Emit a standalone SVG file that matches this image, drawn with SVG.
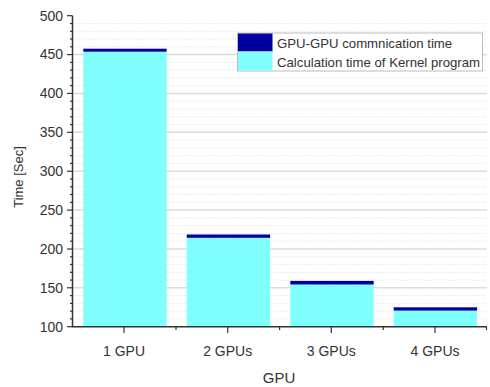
<svg xmlns="http://www.w3.org/2000/svg" width="490" height="387" viewBox="0 0 490 387">
<style>
text{font-family:"Liberation Sans",Arial,sans-serif;fill:#333}
.yl{font-size:14px;text-anchor:end}
.xl{font-size:14px;text-anchor:middle}
.lg{font-size:13.2px}
.gmaj{stroke:#dcdcdc;stroke-width:1.5}
.gmin{stroke:#ececec;stroke-width:1;stroke-dasharray:2,1}
.ax{stroke:#333;stroke-width:1.5;fill:none}
.tk{stroke:#333;stroke-width:1.2}
.cal{fill:#80FFFF}
.com{fill:#0000A0}
</style>
<rect width="490" height="387" fill="#fff"/>
<g id="grid">
<g class="gmin">
<line x1="73" x2="487" y1="318.9" y2="318.9"/><line x1="73" x2="487" y1="311.2" y2="311.2"/><line x1="73" x2="487" y1="303.4" y2="303.4"/><line x1="73" x2="487" y1="295.6" y2="295.6"/>
<line x1="73" x2="487" y1="280.1" y2="280.1"/><line x1="73" x2="487" y1="272.3" y2="272.3"/><line x1="73" x2="487" y1="264.5" y2="264.5"/><line x1="73" x2="487" y1="256.8" y2="256.8"/>
<line x1="73" x2="487" y1="241.2" y2="241.2"/><line x1="73" x2="487" y1="233.4" y2="233.4"/><line x1="73" x2="487" y1="225.7" y2="225.7"/><line x1="73" x2="487" y1="217.9" y2="217.9"/>
<line x1="73" x2="487" y1="202.3" y2="202.3"/><line x1="73" x2="487" y1="194.5" y2="194.5"/><line x1="73" x2="487" y1="186.8" y2="186.8"/><line x1="73" x2="487" y1="179.0" y2="179.0"/>
<line x1="73" x2="487" y1="163.4" y2="163.4"/><line x1="73" x2="487" y1="155.7" y2="155.7"/><line x1="73" x2="487" y1="147.9" y2="147.9"/><line x1="73" x2="487" y1="140.1" y2="140.1"/>
<line x1="73" x2="487" y1="124.6" y2="124.6"/><line x1="73" x2="487" y1="116.8" y2="116.8"/><line x1="73" x2="487" y1="109.0" y2="109.0"/><line x1="73" x2="487" y1="101.2" y2="101.2"/>
<line x1="73" x2="487" y1="85.7" y2="85.7"/><line x1="73" x2="487" y1="77.9" y2="77.9"/><line x1="73" x2="487" y1="70.1" y2="70.1"/><line x1="73" x2="487" y1="62.4" y2="62.4"/>
<line x1="73" x2="487" y1="46.8" y2="46.8"/><line x1="73" x2="487" y1="39.0" y2="39.0"/><line x1="73" x2="487" y1="31.3" y2="31.3"/><line x1="73" x2="487" y1="23.5" y2="23.5"/>
</g>
<g class="gmaj">
<line x1="73" x2="487" y1="287.8" y2="287.8"/><line x1="73" x2="487" y1="249.0" y2="249.0"/><line x1="73" x2="487" y1="210.1" y2="210.1"/><line x1="73" x2="487" y1="171.2" y2="171.2"/>
<line x1="73" x2="487" y1="132.3" y2="132.3"/><line x1="73" x2="487" y1="93.4" y2="93.4"/><line x1="73" x2="487" y1="54.6" y2="54.6"/>
</g>
</g>
<g id="bar-1gpu">
<rect class="cal" x="83.3" y="51.7" width="83.4" height="275"/>
<rect class="com" x="83.3" y="48.7" width="83.4" height="3"/>
</g>
<g id="bar-2gpus">
<rect class="cal" x="186.7" y="237.8" width="83.4" height="88.9"/>
<rect class="com" x="186.7" y="234.5" width="83.4" height="3.3"/>
</g>
<g id="bar-3gpus">
<rect class="cal" x="290.3" y="284.5" width="83.4" height="42.2"/>
<rect class="com" x="290.3" y="280.9" width="83.4" height="3.6"/>
</g>
<g id="bar-4gpus">
<rect class="cal" x="393.7" y="310.6" width="83.4" height="16.1"/>
<rect class="com" x="393.7" y="307.3" width="83.4" height="3.3"/>
</g>
<g id="axes">
<path class="ax" d="M72.5,15.7 V326.7 H487"/>
<g class="tk">
<line x1="67" x2="72.5" y1="326.7" y2="326.7"/><line x1="67" x2="72.5" y1="287.8" y2="287.8"/><line x1="67" x2="72.5" y1="249.0" y2="249.0"/><line x1="67" x2="72.5" y1="210.1" y2="210.1"/>
<line x1="67" x2="72.5" y1="171.2" y2="171.2"/><line x1="67" x2="72.5" y1="132.3" y2="132.3"/><line x1="67" x2="72.5" y1="93.4" y2="93.4"/><line x1="67" x2="72.5" y1="54.6" y2="54.6"/><line x1="67" x2="72.5" y1="15.7" y2="15.7"/>
</g>
<g class="tk" stroke-width="1">
<line x1="70" x2="72.5" y1="318.9" y2="318.9"/><line x1="70" x2="72.5" y1="311.2" y2="311.2"/><line x1="70" x2="72.5" y1="303.4" y2="303.4"/><line x1="70" x2="72.5" y1="295.6" y2="295.6"/>
<line x1="70" x2="72.5" y1="280.1" y2="280.1"/><line x1="70" x2="72.5" y1="272.3" y2="272.3"/><line x1="70" x2="72.5" y1="264.5" y2="264.5"/><line x1="70" x2="72.5" y1="256.8" y2="256.8"/>
<line x1="70" x2="72.5" y1="241.2" y2="241.2"/><line x1="70" x2="72.5" y1="233.4" y2="233.4"/><line x1="70" x2="72.5" y1="225.7" y2="225.7"/><line x1="70" x2="72.5" y1="217.9" y2="217.9"/>
<line x1="70" x2="72.5" y1="202.3" y2="202.3"/><line x1="70" x2="72.5" y1="194.5" y2="194.5"/><line x1="70" x2="72.5" y1="186.8" y2="186.8"/><line x1="70" x2="72.5" y1="179.0" y2="179.0"/>
<line x1="70" x2="72.5" y1="163.4" y2="163.4"/><line x1="70" x2="72.5" y1="155.7" y2="155.7"/><line x1="70" x2="72.5" y1="147.9" y2="147.9"/><line x1="70" x2="72.5" y1="140.1" y2="140.1"/>
<line x1="70" x2="72.5" y1="124.6" y2="124.6"/><line x1="70" x2="72.5" y1="116.8" y2="116.8"/><line x1="70" x2="72.5" y1="109.0" y2="109.0"/><line x1="70" x2="72.5" y1="101.2" y2="101.2"/>
<line x1="70" x2="72.5" y1="85.7" y2="85.7"/><line x1="70" x2="72.5" y1="77.9" y2="77.9"/><line x1="70" x2="72.5" y1="70.1" y2="70.1"/><line x1="70" x2="72.5" y1="62.4" y2="62.4"/>
<line x1="70" x2="72.5" y1="46.8" y2="46.8"/><line x1="70" x2="72.5" y1="39.0" y2="39.0"/><line x1="70" x2="72.5" y1="31.3" y2="31.3"/><line x1="70" x2="72.5" y1="23.5" y2="23.5"/>
</g>
<g class="tk">
<line x1="124" x2="124" y1="326.7" y2="333"/><line x1="227.7" x2="227.7" y1="326.7" y2="333"/><line x1="331.3" x2="331.3" y1="326.7" y2="333"/><line x1="435" x2="435" y1="326.7" y2="333"/>
<line x1="176" x2="176" y1="326.7" y2="330"/><line x1="279.6" x2="279.6" y1="326.7" y2="330"/><line x1="383.3" x2="383.3" y1="326.7" y2="330"/><line x1="486.5" x2="486.5" y1="326.7" y2="330"/>
</g>
</g>
<g id="y-labels">
<text class="yl" x="63" y="331.5">100</text>
<text class="yl" x="63" y="292.6">150</text>
<text class="yl" x="63" y="253.8">200</text>
<text class="yl" x="63" y="214.9">250</text>
<text class="yl" x="63" y="176">300</text>
<text class="yl" x="63" y="137.1">350</text>
<text class="yl" x="63" y="98.2">400</text>
<text class="yl" x="63" y="59.4">450</text>
<text class="yl" x="63" y="20.5">500</text>
</g>
<g id="x-labels">
<text class="xl" x="124" y="356">1 GPU</text>
<text class="xl" x="227.7" y="356">2 GPUs</text>
<text class="xl" x="331.3" y="356">3 GPUs</text>
<text class="xl" x="435" y="356">4 GPUs</text>
</g>
<text id="x-title" x="279" y="383" font-size="15" text-anchor="middle">GPU</text>
<text id="y-title" transform="translate(23,177) rotate(-90)" font-size="13" text-anchor="middle">Time [Sec]</text>
<g id="legend">
<rect x="237.5" y="33" width="245" height="38" fill="#fff" stroke="#bbb" stroke-width="1"/>
<rect class="com" x="238" y="33.5" width="34.5" height="18"/>
<rect class="cal" x="238" y="51.5" width="34.5" height="19"/>
<text class="lg" x="277" y="48">GPU-GPU commnication time</text>
<text class="lg" x="277" y="66.5">Calculation time of Kernel program</text>
</g>
</svg>
